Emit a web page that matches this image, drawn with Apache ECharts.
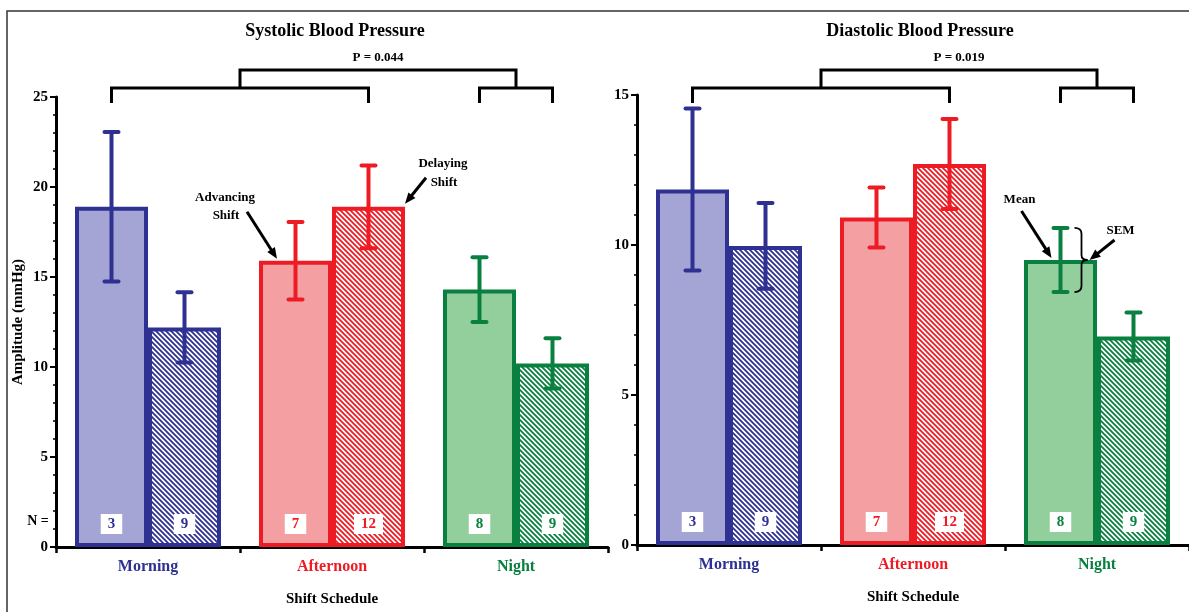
<!DOCTYPE html>
<html><head><meta charset="utf-8">
<script src="https://cdn.jsdelivr.net/npm/echarts@6/dist/echarts.min.js"></script>
<style>html,body{margin:0;padding:0;background:#fff}#c{width:1189px;height:612px}</style>
</head><body><div id="c"></div><script>
// ---- data ----
const categories = ['Morning', 'Afternoon', 'Night'];
const sysAdvMean = [18.9, 15.9, 14.3];
const sysAdvSem  = [4.15, 2.15, 1.8];
const sysDelMean = [12.2, 18.9, 10.2];
const sysDelSem  = [1.95, 2.3, 1.4];
const diaAdvMean = [11.85, 10.92, 9.5];
const diaAdvSem  = [2.7, 1.0, 1.07];
const diaDelMean = [9.97, 12.7, 6.95];
const diaDelSem  = [1.43, 1.5, 0.8];
const nAdv = [3, 7, 8];
const nDel = [9, 12, 9];
const titles = ['Systolic Blood Pressure', 'Diastolic Blood Pressure'];
const pLabels = ['P = 0.044', 'P = 0.019'];
const yMax = [25, 15];
const yInterval = [5, 5];

// ---- style ----
const FONT = "'Liberation Serif','Times New Roman',serif";
const borders = ['#2e3192', '#ed1c24', '#0a8040'];
const fills = ['#a5a5d5', '#f4a0a2', '#93cf9c'];
const BW = 73;

function hatch(color) {
  const s = 5, c = document.createElement('canvas');
  c.width = s; c.height = s;
  const g = c.getContext('2d');
  g.fillStyle = '#fff'; g.fillRect(0, 0, s, s);
  g.strokeStyle = color; g.lineWidth = 1.8;
  g.beginPath();
  g.moveTo(-1, -1); g.lineTo(s + 1, s + 1);
  g.moveTo(-1, s - 1); g.lineTo(1, s + 1);
  g.moveTo(s - 1, -1); g.lineTo(s + 1, 1);
  g.stroke();
  return { image: c, repeat: 'repeat' };
}
const patterns = borders.map(hatch);

function barSeries(gi, means, ns, hatched) {
  return {
    type: 'bar', xAxisIndex: gi, yAxisIndex: gi, barWidth: BW, barGap: '0%',
    data: means.map((v, i) => ({
      value: v,
      itemStyle: { color: hatched ? patterns[i] : fills[i], borderColor: borders[i], borderWidth: 4 },
      label: { color: borders[i] }
    })),
    label: {
      show: true, position: 'insideBottom', distance: 13,
      formatter: p => String(ns[p.dataIndex]),
      backgroundColor: '#fff', padding: [3, 7, 2, 7],
      fontFamily: FONT, fontWeight: 'bold', fontSize: 15
    },
    z: 2
  };
}

function errSeries(gi, means, sems, sign) {
  return {
    type: 'custom', xAxisIndex: gi, yAxisIndex: gi, z: 10,
    data: means.map((m, i) => [i, m, sems[i]]),
    renderItem: (params, api) => {
      const i = api.value(0), m = api.value(1), s = api.value(2);
      const c = api.coord([i, m]);
      const x = c[0] + sign * BW / 2;
      const top = api.coord([i, m + s])[1], bot = api.coord([i, m - s])[1];
      const col = borders[i];
      const st = { stroke: col, lineWidth: 4, lineCap: 'round' };
      return { type: 'group', children: [
        { type: 'line', shape: { x1: x, y1: top, x2: x, y2: bot }, style: { stroke: col, lineWidth: 4 } },
        { type: 'line', shape: { x1: x - 7, y1: top, x2: x + 7, y2: top }, style: st },
        { type: 'line', shape: { x1: x - 7, y1: bot, x2: x + 7, y2: bot }, style: st }
      ]};
    }
  };
}

const grids = [
  { left: 56, top: 97, width: 552, bottom: 65 },
  { left: 637, top: 95, width: 560, bottom: 67 }
];

function xAxis(gi) {
  return {
    type: 'category', gridIndex: gi, data: categories,
    axisLine: { lineStyle: { color: '#000', width: 3 } },
    axisTick: { show: true, length: 6, lineStyle: { color: '#000', width: 2.5 } },
    axisLabel: { margin: 12, fontFamily: FONT, fontWeight: 'bold', fontSize: 16,
      color: (v, i) => borders[categories.indexOf(v)] },
    name: 'Shift Schedule', nameLocation: 'middle', nameGap: 45,
    nameTextStyle: { fontFamily: FONT, fontWeight: 'bold', fontSize: 15, color: '#000' }
  };
}
function yAxis(gi) {
  const a = {
    type: 'value', gridIndex: gi, min: 0, max: yMax[gi], interval: yInterval[gi],
    axisLine: { show: true, lineStyle: { color: '#000', width: 3 } },
    axisTick: { show: true, length: 6, lineStyle: { color: '#000', width: 2 } },
    minorTick: { show: true, splitNumber: 5, length: 3, lineStyle: { color: '#000', width: 1.5 } },
    splitLine: { show: false },
    axisLabel: { margin: 8, fontFamily: FONT, fontWeight: 'bold', fontSize: 15, color: '#000' }
  };
  if (gi === 0) {
    a.name = 'Amplitude (mmHg)'; a.nameLocation = 'middle'; a.nameGap = 30;
    a.nameTextStyle = { fontFamily: FONT, fontWeight: 'bold', fontSize: 15, color: '#000' };
  }
  return a;
}

const chart = echarts.init(document.getElementById('c'), null, { renderer: 'canvas' });
chart.setOption({
  animation: false,
  backgroundColor: '#fff',
  title: titles.map((t, gi) => ({
    text: t, left: grids[gi].left + grids[gi].width / 2 - 2, top: 17, textAlign: 'center',
    textStyle: { fontFamily: FONT, fontWeight: 'bold', fontSize: 18, color: '#000' }
  })),
  grid: grids,
  xAxis: [xAxis(0), xAxis(1)],
  yAxis: [yAxis(0), yAxis(1)],
  series: [
    barSeries(0, sysAdvMean, nAdv, false), barSeries(0, sysDelMean, nDel, true),
    errSeries(0, sysAdvMean, sysAdvSem, -1), errSeries(0, sysDelMean, sysDelSem, 1),
    barSeries(1, diaAdvMean, nAdv, false), barSeries(1, diaDelMean, nDel, true),
    errSeries(1, diaAdvMean, diaAdvSem, -1), errSeries(1, diaDelMean, diaDelSem, 1)
  ]
});

// ---- annotations ----
function px(gi, cat, val) {
  return chart.convertToPixel({ xAxisIndex: gi, yAxisIndex: gi }, [cat, val]);
}
const G = [];
const txt = (x, y, s, size, color) => ({
  type: 'text', x: x, y: y, z: 50,
  style: { text: s, fill: color || '#000', font: `bold ${size}px ${FONT}`, align: 'center', verticalAlign: 'middle' }
});
const ln = (pts, w) => ({ type: 'polyline', z: 50, shape: { points: pts }, style: { stroke: '#000', lineWidth: w, fill: null, lineJoin: 'miter' } });
const qc = (x1, y1, cx, cy, x2, y2, w) => ({ type: 'bezierCurve', z: 50,
  shape: { x1: x1, y1: y1, cpx1: cx, cpy1: cy, x2: x2, y2: y2 }, style: { stroke: '#000', lineWidth: w, fill: null } });
function arrow(x1, y1, x2, y2) {
  const dx = x2 - x1, dy = y2 - y1, L = Math.hypot(dx, dy), ux = dx / L, uy = dy / L;
  const hl = 11, hw = 4.5;
  const bx = x2 - ux * hl, by = y2 - uy * hl;
  return [
    ln([[x1, y1], [bx + ux * 2, by + uy * 2]], 3),
    { type: 'polygon', z: 50, shape: { points: [[x2, y2], [bx - uy * hw, by + ux * hw], [bx + uy * hw, by - ux * hw]] }, style: { fill: '#000' } }
  ];
}

[0, 1].forEach(gi => {
  const cx = i => px(gi, i, 0)[0];
  const xs = [cx(0) - BW / 2, cx(1) + BW / 2, cx(2) - BW / 2, cx(2) + BW / 2];
  const yLow = 88, yLeg = 103, yUp = 70;
  G.push(ln([[xs[0], yLeg], [xs[0], yLow], [xs[1], yLow], [xs[1], yLeg]], 3));
  G.push(ln([[xs[2], yLeg], [xs[2], yLow], [xs[3], yLow], [xs[3], yLeg]], 3));
  const m1 = (xs[0] + xs[1]) / 2, m2 = (xs[2] + xs[3]) / 2;
  G.push(ln([[m1, yLow], [m1, yUp], [m2, yUp], [m2, yLow]], 3));
  G.push(txt((m1 + m2) / 2, 58, pLabels[gi], 13));
});

// N = label
const n0 = px(0, 0, 0);
G.push(txt(38, n0[1] - 26, 'N =', 14));

// Advancing shift
{
  const p = px(0, 1, sysAdvMean[1]);
  const tip = [p[0] - BW + 18, p[1] - 2];
  G.push(...arrow(tip[0] - 30, tip[1] - 47, tip[0], tip[1]));
  G.push(txt(tip[0] - 52, tip[1] - 61, 'Advancing', 13));
  G.push(txt(tip[0] - 51, tip[1] - 43, 'Shift', 13));
}
// Delaying shift
{
  const p = px(0, 1, sysDelMean[1]);
  const tip = [p[0] + BW, p[1] - 3];
  G.push(...arrow(tip[0] + 21, tip[1] - 26, tip[0], tip[1]));
  G.push(txt(tip[0] + 38, tip[1] - 40, 'Delaying', 13));
  G.push(txt(tip[0] + 39, tip[1] - 21, 'Shift', 13));
}
// Mean / SEM
{
  const p = px(1, 2, diaAdvMean[2]);
  const bc = p[0] - BW / 2;
  const tip = [bc - 9, p[1] - 2];
  G.push(...arrow(tip[0] - 30, tip[1] - 47, tip[0], tip[1]));
  G.push(txt(tip[0] - 32, tip[1] - 58, 'Mean', 13));
  const yt = px(1, 2, diaAdvMean[2] + diaAdvSem[2])[1];
  const yb = px(1, 2, diaAdvMean[2] - diaAdvSem[2])[1];
  const ym = p[1];
  const bx = bc + 14;
  G.push(qc(bx, yt, bx + 7, yt, bx + 7, yt + 6, 1.8));
  G.push(ln([[bx + 7, yt + 6], [bx + 7, ym - 5]], 1.8));
  G.push(qc(bx + 7, ym - 5, bx + 7, ym, bx + 13, ym, 1.8));
  G.push(qc(bx + 13, ym, bx + 7, ym, bx + 7, ym + 5, 1.8));
  G.push(ln([[bx + 7, ym + 5], [bx + 7, yb - 6]], 1.8));
  G.push(qc(bx + 7, yb - 6, bx + 7, yb, bx, yb, 1.8));
  const t2 = [bx + 15, ym];
  G.push(...arrow(t2[0] + 25, t2[1] - 20, t2[0], t2[1]));
  G.push(txt(t2[0] + 31, t2[1] - 29, 'SEM', 13));
}

// frame
G.push({ type: 'rect', z: 0, shape: { x: 7, y: 11, width: 1300, height: 700 }, style: { stroke: '#333', lineWidth: 1.5, fill: null } });

chart.setOption({ graphic: G });
</script></body></html>
